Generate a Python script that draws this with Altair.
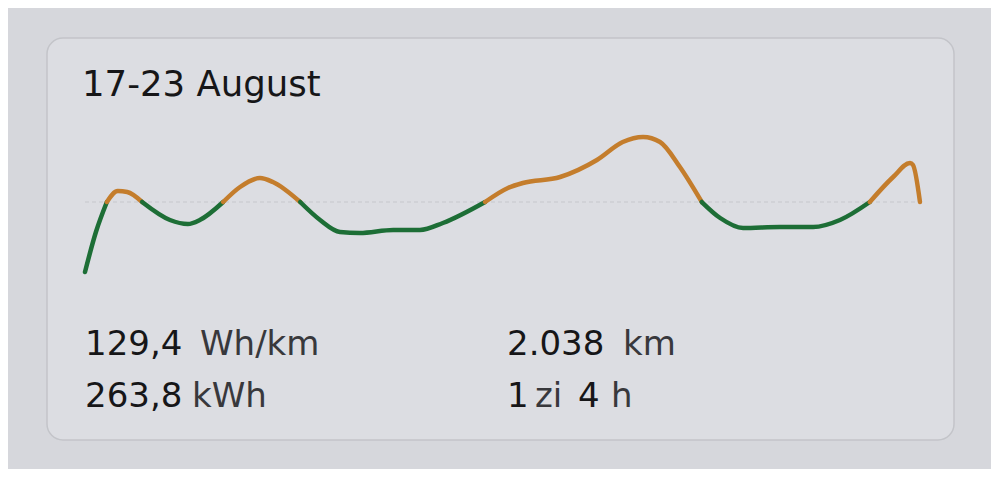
import altair as alt
import pandas as pd

# Data: hours since start of week (17 Aug 00:00) and Wh/km
hours = [0, 2.2, 4.4, 6.6, 8.5, 11.5, 17.1, 20.7, 23.1, 27.8, 31.2, 35.2, 37.8,
         43.3, 47.3, 51.3, 55.3, 62.0, 67.4, 72.0, 80.5, 85.1, 88.1, 95.6,
         103.0, 108.2, 112.3, 115.7, 119.7, 124.1, 127.8, 132.4, 139.8, 146.5,
         151.9, 157.9, 162.6, 166.0, 166.6, 168.0]
values = [87.4, 111.4, 129.4, 136.0, 135.4, 129.4, 118.6, 116.2, 118.6, 129.4,
          138.4, 143.8, 141.4, 129.4, 118.6, 111.4, 110.8, 112.6, 112.6, 116.8,
          129.4, 137.8, 140.8, 144.4, 154.6, 165.4, 168.4, 165.4, 150.4, 129.4,
          119.8, 113.8, 114.4, 114.4, 118.6, 129.4, 144.4, 152.8, 151.6, 129.4]
AVG = 129.4

title_text = "17-23 August"
stat_numbers = ["129,4", "263,8", "2.038", "1", "4"]
stat_units = ["Wh/km", "kWh", "km", "zi", "h"]

# split into segments at the average crossings
rows = []
seg = 0
start = 0
for i in range(1, len(hours)):
    if values[i] == AVG or i == len(hours) - 1:
        pts = range(start, i + 1)
        mid = [values[j] for j in pts]
        kind = "above" if max(mid) > AVG else "below"
        for j in pts:
            rows.append({"h": hours[j], "v": values[j], "seg": seg, "kind": kind})
        seg += 1
        start = i
df = pd.DataFrame(rows)

BG = "#d6d7dc"
CARD = "#dcdde2"
ORANGE = "#c47d2c"
GREEN = "#1d6e36"
DARK = "#161618"
UNIT = "#38383c"
FONT = "DejaVu Sans"

xs = alt.Scale(domain=[-15.49, 182.29], nice=False, zero=False)
ys = alt.Scale(domain=[-30.8, 245.8], nice=False, zero=False)

one = pd.DataFrame({"a": [0]})

card = alt.Chart(one).mark_rect(
    cornerRadius=16, fill=CARD, stroke="#c3c4c9", strokeWidth=1.5
).encode(x=alt.value(39), x2=alt.value(946), y=alt.value(30), y2=alt.value(432))

rule = alt.Chart(one).mark_rule(
    color="#c6c7cc", strokeWidth=1, strokeDash=[4, 3]
).encode(
    x=alt.datum(hours[0], scale=xs, axis=None),
    x2=alt.datum(hours[-1]),
    y=alt.datum(AVG, scale=ys, axis=None),
)

line = alt.Chart(df).mark_line(
    interpolate="monotone", strokeWidth=4.5, strokeCap="round", strokeJoin="round"
).encode(
    x=alt.X("h:Q", scale=xs, axis=None),
    y=alt.Y("v:Q", scale=ys, axis=None),
    color=alt.Color("kind:N", scale=alt.Scale(domain=["above", "below"], range=[ORANGE, GREEN]), legend=None),
    detail="seg:N",
    order="h:Q",
)


def txt(s, x, y, color, size=34, weight=400):
    return alt.Chart(one).mark_text(
        text=s, align="left", baseline="alphabetic", font=FONT,
        fontSize=size, fontWeight=weight, color=color
    ).encode(x=alt.value(x), y=alt.value(y))


texts = [
    txt(title_text, 74, 88, DARK, 35.5, 400),
    txt(stat_numbers[0], 77, 347, DARK),
    txt(stat_units[0], 192, 347, UNIT),
    txt(stat_numbers[1], 77, 399, DARK),
    txt(stat_units[1], 184, 399, UNIT),
    txt(stat_numbers[2], 499, 347, DARK),
    txt(stat_units[2], 615, 347, UNIT),
    txt(stat_numbers[3], 499, 399, DARK),
    txt(stat_units[3], 527, 399, UNIT),
    txt(stat_numbers[4], 570, 399, DARK),
    txt(stat_units[4], 603, 399, UNIT),
]

chart = alt.layer(card, rule, line, *texts).properties(
    width=983, height=461,
    autosize=alt.AutoSizeParams(type="fit", contains="padding"),
    padding=0,
    background=BG,
).configure_view(stroke=None)

chart.save("out.html", embed_options={"renderer": "svg", "actions": False})
